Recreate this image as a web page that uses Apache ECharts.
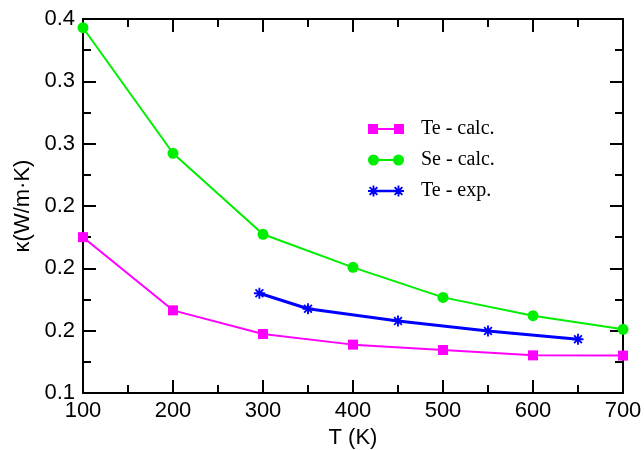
<!DOCTYPE html>
<html>
<head>
<meta charset="utf-8">
<script src="https://cdn.jsdelivr.net/npm/echarts@6/dist/echarts.min.js"></script>
<style>html,body{margin:0;padding:0;background:#fff}#c{width:644px;height:450px}</style>
</head>
<body>
<div id="c"></div>
<script>
const seriesNames = ['Te - calc.', 'Se - calc.', 'Te - exp.'];
const teCalcT = [100, 200, 300, 400, 500, 600, 700];
const teCalcK = [0.225, 0.1663, 0.1473, 0.1388, 0.1345, 0.1302, 0.1300];
const seCalcT = [100, 200, 300, 400, 500, 600, 700];
const seCalcK = [0.393, 0.2923, 0.2273, 0.2008, 0.1767, 0.162, 0.1511];
const teExpT = [296, 350, 450, 550, 650];
const teExpK = [0.180, 0.1676, 0.1578, 0.1497, 0.1431];
const xTickLabels = ['100', '200', '300', '400', '500', '600', '700'];
const yTickValues = [0.1, 0.15, 0.2, 0.25, 0.3, 0.35, 0.4];
const yTickLabels = ['0.1', '0.2', '0.2', '0.2', '0.3', '0.3', '0.4'];
const colors = ['#ff00ff', '#00ee00', '#0000ff'];

function pairs(xs, ys) { return xs.map((x, i) => [x, ys[i]]); }

function starAt(cx, cy, r) {
  const p = [
    [[-1,-0.17],[1,-0.17],[1,0.17],[-1,0.17]],
    [[-0.17,-1],[0.17,-1],[0.17,1],[-0.17,1]],
    [[-0.827,-0.587],[-0.587,-0.827],[0.827,0.587],[0.587,0.827]],
    [[0.587,-0.827],[0.827,-0.587],[-0.587,0.827],[-0.827,0.587]]
  ];
  return p.map(poly => 'M' + poly.map(q => (cx + q[0]*r).toFixed(3) + ' ' + (cy + q[1]*r).toFixed(3)).join(' L') + ' Z').join(' ');
}
const star = 'path://' + starAt(0, 0, 1);
const W = 36, H = 11;
const legendSquare = 'path://M0 0.5 H10 V10.5 H0 Z M26 0.5 H36 V10.5 H26 Z M10 4.5 H26 V6.5 H10 Z M0 0 H0.01 V11 H0 Z';
const legendCircle = 'path://M0 5.5 A5.5 5.5 0 1 1 11 5.5 A5.5 5.5 0 1 1 0 5.5 Z M25 5.5 A5.5 5.5 0 1 1 36 5.5 A5.5 5.5 0 1 1 25 5.5 Z M10 4.5 H26 V6.5 H10 Z';
const legendStar = 'path://' + starAt(5.5, 5.5, 5.5) + ' ' + starAt(30.5, 5.5, 5.5) + ' M5 4.2 H31 V6.8 H5 Z';

const chart = echarts.init(document.getElementById('c'), null, { renderer: 'canvas' });
const axisLine = { show: true, lineStyle: { color: '#000', width: 2 } };
const tickStyle = { color: '#000', width: 2 };
const font = 'Liberation Sans';
const option = {
  backgroundColor: '#fff',
  animation: false,
  grid: { left: 83, right: 21, top: 19, bottom: 57, containLabel: false, outerBoundsMode: 'none' },
  legend: {
    orient: 'vertical',
    left: 363,
    top: 114,
    itemWidth: W,
    itemHeight: H,
    itemGap: 11,
    data: [
      { name: seriesNames[0], icon: legendSquare },
      { name: seriesNames[1], icon: legendCircle },
      { name: seriesNames[2], icon: legendStar }
    ],
    textStyle: { fontFamily: 'Liberation Serif', fontSize: 20, color: '#000', padding: [0, 0, 0, 12] }
  },
  xAxis: [{
    type: 'value', min: 100, max: 700, interval: 100, position: 'bottom',
    name: 'T (K)', nameLocation: 'middle', nameGap: 33,
    nameTextStyle: { fontFamily: font, fontSize: 22, color: '#000' },
    axisLine: axisLine,
    axisTick: { show: true, inside: true, length: 13, lineStyle: tickStyle },
    minorTick: { show: true, splitNumber: 2, length: 8, lineStyle: tickStyle },
    axisLabel: { fontFamily: font, fontSize: 22, color: '#000', margin: 7,
      formatter: v => xTickLabels[Math.round((v - 100) / 100)] },
    splitLine: { show: false }
  }, {
    type: 'value', min: 100, max: 700, interval: 100, position: 'top',
    axisLine: axisLine,
    axisTick: { show: true, inside: true, length: 13, lineStyle: tickStyle },
    minorTick: { show: true, splitNumber: 2, length: 8, lineStyle: tickStyle },
    axisLabel: { show: false }, splitLine: { show: false }
  }],
  yAxis: [{
    type: 'value', min: 0.1, max: 0.4, interval: 0.05, position: 'left',
    name: 'κ(W/m·K)', nameLocation: 'middle', nameGap: 49,
    nameTextStyle: { fontFamily: font, fontSize: 22, color: '#000' },
    axisLine: axisLine,
    axisTick: { show: true, inside: true, length: 13, lineStyle: tickStyle },
    minorTick: { show: true, splitNumber: 2, length: 8, lineStyle: tickStyle },
    axisLabel: { fontFamily: font, fontSize: 22, color: '#000', margin: 8,
      formatter: v => { const i = yTickValues.findIndex(t => Math.abs(t - v) < 1e-6); return i >= 0 ? yTickLabels[i] : ''; } },
    splitLine: { show: false }
  }, {
    type: 'value', min: 0.1, max: 0.4, interval: 0.05, position: 'right',
    axisLine: axisLine,
    axisTick: { show: true, inside: true, length: 13, lineStyle: tickStyle },
    minorTick: { show: true, splitNumber: 2, length: 8, lineStyle: tickStyle },
    axisLabel: { show: false }, splitLine: { show: false }
  }],
  series: [{
    name: seriesNames[0], type: 'line', data: pairs(teCalcT, teCalcK),
    symbol: 'rect', symbolSize: 10, color: colors[0],
    lineStyle: { width: 2, color: colors[0] }, itemStyle: { color: colors[0] }, z: 3
  }, {
    name: seriesNames[1], type: 'line', data: pairs(seCalcT, seCalcK),
    symbol: 'circle', symbolSize: 11, color: colors[1],
    lineStyle: { width: 2, color: colors[1] }, itemStyle: { color: colors[1] }, z: 3
  }, {
    name: seriesNames[2], type: 'line', data: pairs(teExpT, teExpK),
    symbol: star, symbolSize: 11, color: colors[2],
    lineStyle: { width: 3, color: colors[2] }, itemStyle: { color: colors[2] }, z: 3
  }]
};
chart.setOption(option);
</script>
</body>
</html>
